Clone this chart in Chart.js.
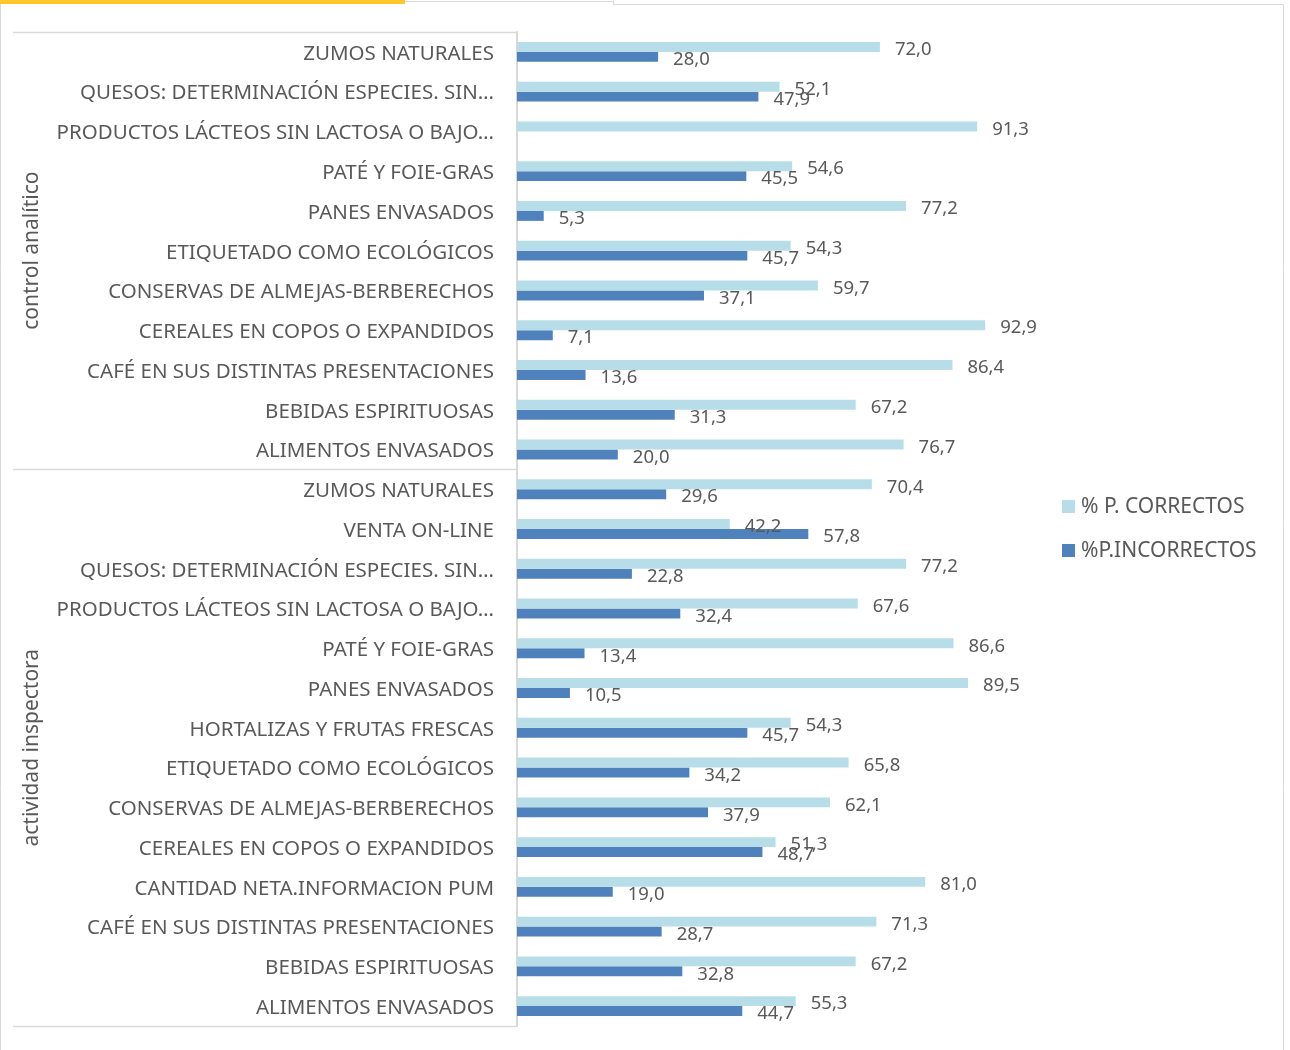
<!DOCTYPE html>
<html lang="es">
<head>
<meta charset="utf-8">
<title>Productos correctos e incorrectos</title>
<script src="https://cdn.jsdelivr.net/npm/chart.js@4"></script>
<style>
  html, body { margin: 0; padding: 0; background: #fff; }
  #conteiner { width: 1290px; height: 1050px; }
</style>
</head>
<body>
<div id="conteiner"><canvas id="grafico"></canvas></div>
<script>
const categorias = [
    'ZUMOS NATURALES',
    'QUESOS: DETERMINACIÓN ESPECIES. SIN…',
    'PRODUCTOS LÁCTEOS SIN LACTOSA O BAJO…',
    'PATÉ Y FOIE-GRAS',
    'PANES ENVASADOS',
    'ETIQUETADO COMO ECOLÓGICOS',
    'CONSERVAS DE ALMEJAS-BERBERECHOS',
    'CEREALES EN COPOS O EXPANDIDOS',
    'CAFÉ EN SUS DISTINTAS PRESENTACIONES',
    'BEBIDAS ESPIRITUOSAS',
    'ALIMENTOS ENVASADOS',
    'ZUMOS NATURALES',
    'VENTA ON-LINE',
    'QUESOS: DETERMINACIÓN ESPECIES. SIN…',
    'PRODUCTOS LÁCTEOS SIN LACTOSA O BAJO…',
    'PATÉ Y FOIE-GRAS',
    'PANES ENVASADOS',
    'HORTALIZAS Y FRUTAS FRESCAS',
    'ETIQUETADO COMO ECOLÓGICOS',
    'CONSERVAS DE ALMEJAS-BERBERECHOS',
    'CEREALES EN COPOS O EXPANDIDOS',
    'CANTIDAD NETA.INFORMACION PUM',
    'CAFÉ EN SUS DISTINTAS PRESENTACIONES',
    'BEBIDAS ESPIRITUOSAS',
    'ALIMENTOS ENVASADOS'
];
const grupos = ['control analítico', 'actividad inspectora'];
const tamanhoGrupos = [11, 14];

const correctos = [72.0, 52.1, 91.3, 54.6, 77.2, 54.3, 59.7, 92.9, 86.4, 67.2, 76.7,
    70.4, 42.2, 77.2, 67.6, 86.6, 89.5, 54.3, 65.8, 62.1, 51.3, 81.0, 71.3, 67.2, 55.3];
const incorrectos = [28.0, 47.9, null, 45.5, 5.3, 45.7, 37.1, 7.1, 13.6, 31.3, 20.0,
    29.6, 57.8, 22.8, 32.4, 13.4, 10.5, 45.7, 34.2, 37.9, 48.7, 19.0, 28.7, 32.8, 44.7];

const nomesSeries = ['% P. CORRECTOS', '%P.INCORRECTOS'];
const cores = ['#B7DEE8', '#4F81BD'];
const corTexto = '#595959';
const corLinha = '#D9D9D9';
const fonte = '"Noto Sans", "Open Sans", sans-serif';

function formatar(v) {
    return v.toFixed(1).replace('.', ',');
}

// moldura, linhas de grupo, rotulos e legenda
const enfeites = {
    id: 'enfeites',
    beforeDraw(chart) {
        const ctx = chart.ctx;
        ctx.save();
        ctx.fillStyle = '#fff';
        ctx.fillRect(0, 0, chart.width, chart.height);
        ctx.fillStyle = '#FFC729';
        ctx.fillRect(0, 0, 405, 4);
        ctx.strokeStyle = corLinha;
        ctx.lineWidth = 1;
        ctx.beginPath();
        ctx.moveTo(405, 1.5); ctx.lineTo(613, 1.5);
        ctx.moveTo(613.5, 0); ctx.lineTo(613.5, 4);
        ctx.moveTo(613, 4.5); ctx.lineTo(1283.5, 4.5);
        ctx.lineTo(1283.5, chart.height);
        ctx.moveTo(0.5, 4); ctx.lineTo(0.5, chart.height);
        ctx.stroke();
        ctx.restore();
    },
    afterDatasetsDraw(chart) {
        const ctx = chart.ctx;
        ctx.save();
        ctx.font = '18.5px ' + fonte;
        ctx.fillStyle = corTexto;
        ctx.textBaseline = 'middle';
        ctx.textAlign = 'left';
        chart.data.datasets.forEach((ds, i) => {
            const meta = chart.getDatasetMeta(i);
            meta.data.forEach((barra, j) => {
                const v = ds.data[j];
                if (v === null || v === undefined) return;
                ctx.fillText(formatar(v), barra.x + 15, barra.y + 3);
            });
        });
        ctx.restore();
    },
    afterDraw(chart) {
        const ctx = chart.ctx;
        const y = chart.scales.y;
        const area = chart.chartArea;
        ctx.save();
        ctx.strokeStyle = corLinha;
        ctx.lineWidth = 1.5;
        let inicio = 0;
        const limites = [area.top];
        tamanhoGrupos.forEach(n => {
            inicio += n;
            const fim = inicio < categorias.length
                ? (y.getPixelForValue(inicio - 1) + y.getPixelForValue(inicio)) / 2
                : area.bottom;
            limites.push(fim);
        });
        ctx.beginPath();
        limites.forEach(l => {
            ctx.moveTo(13, Math.round(l) + 0.5);
            ctx.lineTo(area.left, Math.round(l) + 0.5);
        });
        ctx.stroke();

        ctx.fillStyle = corTexto;
        ctx.font = '21px ' + fonte;
        ctx.textAlign = 'center';
        ctx.textBaseline = 'middle';
        grupos.forEach((g, i) => {
            const meio = (limites[i] + limites[i + 1]) / 2;
            ctx.save();
            ctx.translate(32, meio);
            ctx.rotate(-Math.PI / 2);
            ctx.fillText(g, 0, 0);
            ctx.restore();
        });

        // legenda
        const meioArea = (area.top + area.bottom) / 2;
        ctx.textAlign = 'left';
        nomesSeries.forEach((nome, i) => {
            const yy = meioArea - 22 + i * 44;
            ctx.fillStyle = cores[i];
            ctx.fillRect(1062, yy - 7, 13, 13);
            ctx.fillStyle = corTexto;
            ctx.fillText(nome, 1081, yy);
        });
        ctx.restore();
    }
};

new Chart(document.getElementById('grafico'), {
    type: 'bar',
    data: {
        labels: categorias,
        datasets: [
            { label: nomesSeries[0], data: correctos, backgroundColor: cores[0] },
            { label: nomesSeries[1], data: incorrectos, backgroundColor: cores[1] }
        ]
    },
    options: {
        indexAxis: 'y',
        responsive: true,
        maintainAspectRatio: false,
        animation: false,
        categoryPercentage: 0.5,
        barPercentage: 1,
        layout: { padding: { top: 32, bottom: 24, left: 0, right: 269 } },
        plugins: {
            legend: { display: false },
            tooltip: { enabled: false }
        },
        scales: {
            x: {
                display: false,
                min: 0,
                max: 100
            },
            y: {
                grid: { display: false, drawTicks: false },
                border: { display: true, color: corLinha, width: 2 },
                ticks: {
                    color: corTexto,
                    padding: 23,
                    labelOffset: 2,
                    autoSkip: false,
                    font: { size: 20.5, family: fonte }
                },
                afterFit(scale) {
                    scale.width = 517;
                    scale.paddingTop = 0;
                    scale.paddingBottom = 0;
                }
            }
        }
    },
    plugins: [enfeites]
});
</script>
</body>
</html>
